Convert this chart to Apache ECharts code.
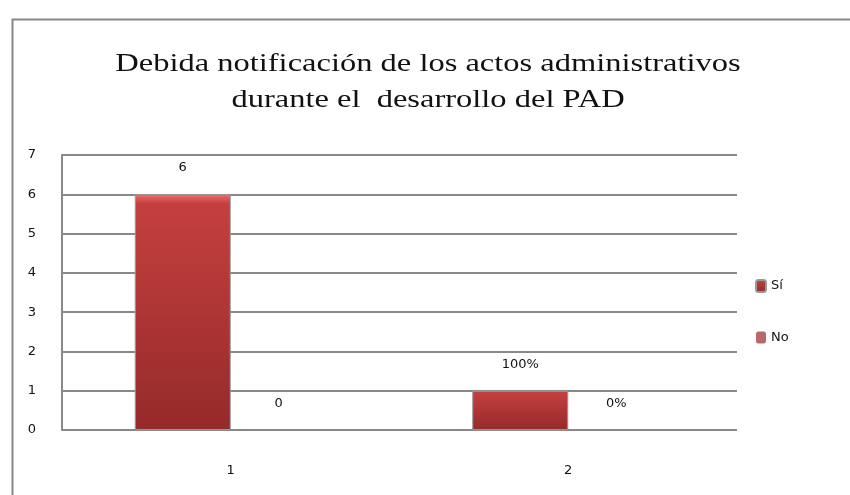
<!DOCTYPE html>
<html><head><meta charset="utf-8">
<script src="https://cdn.jsdelivr.net/npm/echarts@6/dist/echarts.min.js"></script>
<style>html,body{margin:0;padding:0;background:#fff}#c{width:850px;height:495px}</style>
</head><body><div id="c"></div>
<script>
const categories = ['1', '2'];
const seriesNames = ['Sí', 'No'];
const siValues = [6, 1];
const noValues = [0, 0];
const siLabels = ['6', '100%'];
const noLabels = ['0', '0%'];
const titleText = 'Debida notificación de los actos administrativos\ndurante el  desarrollo del PAD';

const chart = echarts.init(document.getElementById('c'));
const labelStyle = { show: true, position: 'top', distance: 20, color: '#111', fontSize: 13, fontFamily: 'DejaVu Sans' };
chart.setOption({
  animation: false,
  graphic: [
    { type: 'rect', left: 10, top: 17, shape: { width: 860, height: 500 }, style: { fill: 'none', stroke: '#888', lineWidth: 2 } },
    { type: 'text', x: 428, y: 82, scaleX: 1.3, z: 10,
      style: { text: titleText, textAlign: 'center', textVerticalAlign: 'middle', font: '25px "Liberation Serif"', lineHeight: 36, fill: '#111' } }
  ],
  legend: {
    orient: 'vertical', left: 750, top: 274, itemGap: 38, itemWidth: 10, itemHeight: 12,
    textStyle: { fontFamily: 'DejaVu Sans', fontSize: 13, color: '#111' },
    data: seriesNames
  },
  grid: { left: 62, right: 113, top: 155, bottom: 65 },
  xAxis: {
    type: 'category', data: categories,
    axisLine: { show: false }, axisTick: { show: false },
    axisLabel: { margin: 34, color: '#111', fontSize: 13, fontFamily: 'DejaVu Sans' }
  },
  yAxis: {
    type: 'value', min: 0, max: 7, interval: 1,
    axisLine: { show: true, lineStyle: { color: '#888', width: 2 } },
    splitLine: { lineStyle: { color: '#888', width: 2 } },
    axisLabel: { margin: 26, color: '#111', fontSize: 13, fontFamily: 'DejaVu Sans' }
  },
  series: [
    {
      name: seriesNames[0], type: 'bar', data: siValues, barWidth: 96, barGap: '0%',
      itemStyle: {
        color: new echarts.graphic.LinearGradient(0, 0, 0, 1, [
          { offset: 0, color: '#ef6d6b' }, { offset: 0.04, color: '#c4403e' }, { offset: 1, color: '#952a2a' }
        ]),
        borderColor: '#999', borderWidth: 1
      },
      label: Object.assign({}, labelStyle, { formatter: p => siLabels[p.dataIndex] })
    },
    {
      name: seriesNames[1], type: 'bar', data: noValues, barWidth: 96,
      itemStyle: { color: '#b86a6a' },
      label: Object.assign({}, labelStyle, { formatter: p => noLabels[p.dataIndex] })
    }
  ]
});
</script></body></html>
